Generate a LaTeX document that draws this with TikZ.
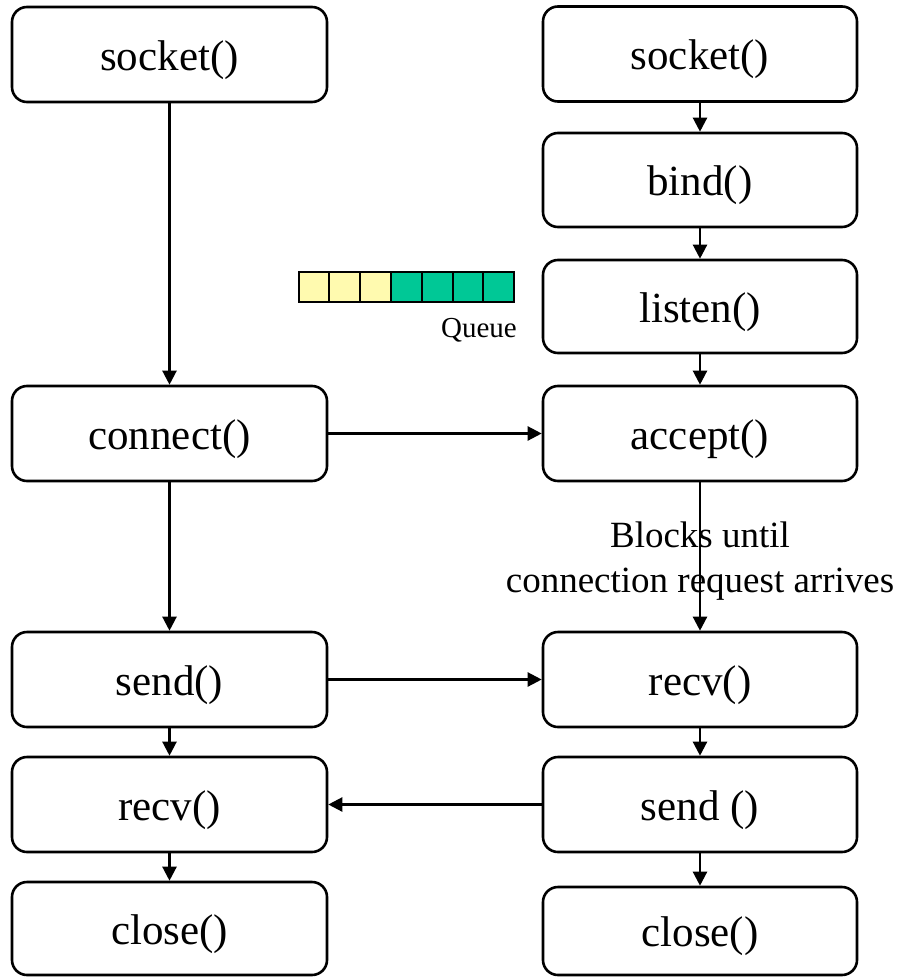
\documentclass[tikz,border=0pt]{standalone}
\usepackage{fontspec}
\setmainfont{Liberation Serif}
\usetikzlibrary{arrows.meta}
\definecolor{qyellow}{RGB}{255,250,175}
\definecolor{qgreen}{RGB}{0,200,150}
\tikzset{
  callbox/.style={draw, line width=2.6pt, rounded corners=15pt, fill=white,
    minimum width=315pt, minimum height=95pt, inner sep=0pt,
    text height=31pt, text depth=0pt,
    font=\fontsize{43}{50}\selectfont},
  flow/.style={line width=2.3pt, -{Triangle[length=14pt,width=14pt]}},
  qcell/.style={draw, line width=2pt, minimum width=30.8pt, minimum height=30pt,
    inner sep=0pt, anchor=west},
}
\begin{document}
\begin{tikzpicture}[x=1pt, y=-1pt]
\useasboundingbox (0,0) rectangle (899,977);

% client side
\node[callbox] (lsock) at (169.5,54.5) {socket()};
\node[callbox] (lconn) at (169.5,433.5) {connect()};
\node[callbox] (lsend) at (169.5,679.5) {send()};
\node[callbox] (lrecv) at (169.5,804.5) {recv()};
\node[callbox, minimum height=93pt] (lclose) at (169.5,928.5) {close()};

% server side
\node[callbox, minimum width=314pt] (rsock) at (700,54) {socket()};
\node[callbox, minimum width=314pt, minimum height=94pt] (rbind) at (700,180) {bind()};
\node[callbox, minimum width=314pt, minimum height=93pt] (rlisten) at (700,306.5) {listen()};
\node[callbox, minimum width=314pt] (racc) at (700,433.5) {accept()};
\node[callbox, minimum width=314pt] (rrecv) at (700,679.5) {recv()};
\node[callbox, minimum width=314pt] (rsend) at (700,804.5) {send ()};
\node[callbox, minimum width=314pt, minimum height=88pt] (rclose) at (700,931) {close()};

% pending connection queue
\foreach \i in {1,2,3} {
  \node[qcell, fill=qyellow] (q\i) at ({297.5+(\i-1)*30.8},286.5) {};
}
\foreach \i in {4,5,6,7} {
  \node[qcell, fill=qgreen] (q\i) at ({297.5+(\i-1)*30.8},286.5) {};
}
\node[font=\fontsize{29}{34}\selectfont] (qlabel) at (479,330) {Queue};

% client flow
\draw[flow] (lsock.south) -- (lconn.north);
\draw[flow] (lconn.south) -- (lsend.north);
\draw[flow] (lsend.south) -- (lrecv.north);
\draw[flow] (lrecv.south) -- (lclose.north);

% server flow
\draw[flow] (rsock.south) -- (rbind.north);
\draw[flow] (rbind.south) -- (rlisten.north);
\draw[flow] (rlisten.south) -- (racc.north);
\draw[flow] (racc.south) -- (rrecv.north);
\draw[flow] (rrecv.south) -- (rsend.north);
\draw[flow] (rsend.south) -- (rclose.north);

% exchanges between the two sides
\draw[flow] (lconn.east) -- (racc.west);
\draw[flow] (lsend.east) -- (rrecv.west);
\draw[flow] (rsend.west) -- (lrecv.east);

\node[align=center, inner sep=0pt, font=\fontsize{37}{45}\selectfont] (blocknote) at (700,561)
  {Blocks until\\connection request arrives};
\end{tikzpicture}
\end{document}
